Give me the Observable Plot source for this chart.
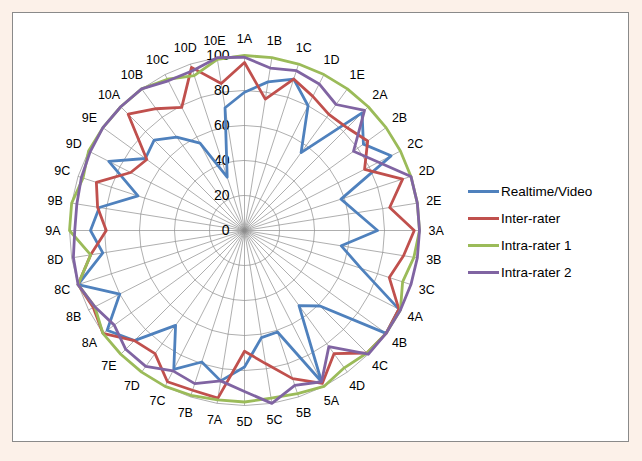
<!DOCTYPE html>
<html>
<head>
<meta charset="utf-8">
<script src="https://cdn.jsdelivr.net/npm/d3@7"></script>
<script src="https://cdn.jsdelivr.net/npm/@observablehq/plot@0.6"></script>
<style>
  html, body { margin: 0; padding: 0; }
  body { width: 642px; height: 461px; background: #fcf1e9; position: relative; overflow: hidden; font-family: "Liberation Sans", Arial, sans-serif; }
  #frame { position: absolute; left: 12px; top: 12px; width: 617px; height: 430px; background: #ffffff; border: 1px solid #8a8a8a; box-sizing: border-box; }
  #chart { position: absolute; left: 0; top: 0; }
  #chart svg { background: transparent; }
  #legend { position: absolute; left: 468px; top: 178px; }
  .row { height: 27px; display: flex; align-items: center; font-size: 13.5px; color: #000; }
  .sw { width: 31px; height: 3px; margin-right: 2px; }
</style>
</head>
<body>
<div id="frame"></div>
<div id="chart"></div>
<div id="legend"></div>
<script>
const categories = ["1A","1B","1C","1D","1E","2A","2B","2C","2D","2E","3A","3B","3C","4A","4B","4C","4D","5A","5B","5C","5D","7A","7B","7C","7D","7E","8A","8B","8C","8D","9A","9B","9C","9D","9E","10A","10B","10C","10D","10E"];
const realtimeVideo = [79,86,91,80,55,95,84,94,58,65,76,56,70,99,100,61,53,97,61,62,78,87,79,89,67,89,97,80,100,82,88,84,64,87,70,73,66,56,32,71];
const interRater   = [96,76,91,86,82,83,87,77,95,84,97,92,87,99,100,99,87,98,89,77,69,97,96,97,87,89,100,97,100,89,79,85,89,73,69,94,86,79,98,85];
const intraRater1  = [100,100,100,100,100,100,100,100,100,100,100,98,95,100,100,99,97,100,98,97,98,98,99,100,100,100,100,96,100,89,100,100,97,100,100,100,100,97,93,99];
const intraRater2  = [99,94,96,94,89,97,77,86,100,100,100,100,100,100,100,100,82,97,93,100,92,87,92,90,96,96,92,96,100,99,97,97,98,99,100,100,100,96,96,100];
const seriesNames = ["Realtime/Video","Inter-rater","Intra-rater 1","Intra-rater 2"];
const seriesColors = ["#4f81bd","#c0504d","#9bbb59","#8064a2"];
const tickValues = [0,20,40,60,80,100];

const seriesValues = [realtimeVideo, interRater, intraRater1, intraRater2];
const n = categories.length;
const ang = i => i * 2 * Math.PI / n;

const rows = [];
seriesNames.forEach((s, k) => {
  seriesValues[k].forEach((v, i) => {
    rows.push({series: s, cat: categories[i], x: v / 100 * Math.sin(ang(i)), y: v / 100 * Math.cos(ang(i))});
  });
});

const ringRows = [];
tickValues.filter(t => t > 0).forEach(t => {
  categories.forEach((c, i) => ringRows.push({ring: t, x: t / 100 * Math.sin(ang(i)), y: t / 100 * Math.cos(ang(i))}));
});

const spokes = categories.map((c, i) => ({cat: c, x: Math.sin(ang(i)), y: Math.cos(ang(i))}));
const labelR = 1.095;

const cx = 244, cy = 230, R = 175;
const chart = Plot.plot({
  width: 642,
  height: 461,
  marginTop: 0, marginRight: 0, marginBottom: 0, marginLeft: 0,
  x: {domain: [-1, 1], range: [cx - R, cx + R], axis: null},
  y: {domain: [-1, 1], range: [cy + R, cy - R], axis: null},
  color: {domain: seriesNames, range: seriesColors},
  style: {background: "transparent", fontFamily: "Liberation Sans, Arial, sans-serif"},
  marks: [
    Plot.link(spokes, {x1: 0, y1: 0, x2: "x", y2: "y", stroke: "#8c8c8c", strokeWidth: 0.7}),
    Plot.line(ringRows, {x: "x", y: "y", z: "ring", curve: "linear-closed", stroke: "#8c8c8c", strokeWidth: 0.7}),
    Plot.text(tickValues, {x: 0, y: d => d / 100, text: d => String(d), textAnchor: "end", dx: -15, fontSize: 14, fill: "#000"}),
    Plot.line(rows, {x: "x", y: "y", z: "series", stroke: "series", curve: "linear-closed", strokeWidth: 2.8, strokeLinejoin: "round"}),
    Plot.text(spokes, {x: d => d.x * labelR, y: d => d.y * labelR, text: "cat", fontSize: 12.5, fill: "#000"})
  ]
});
document.getElementById("chart").appendChild(chart);

const legend = document.getElementById("legend");
seriesNames.forEach((s, k) => {
  const row = document.createElement("div");
  row.className = "row";
  const sw = document.createElement("span");
  sw.className = "sw";
  sw.style.background = seriesColors[k];
  const tx = document.createElement("span");
  tx.textContent = s;
  row.appendChild(sw);
  row.appendChild(tx);
  legend.appendChild(row);
});
</script>
</body>
</html>
